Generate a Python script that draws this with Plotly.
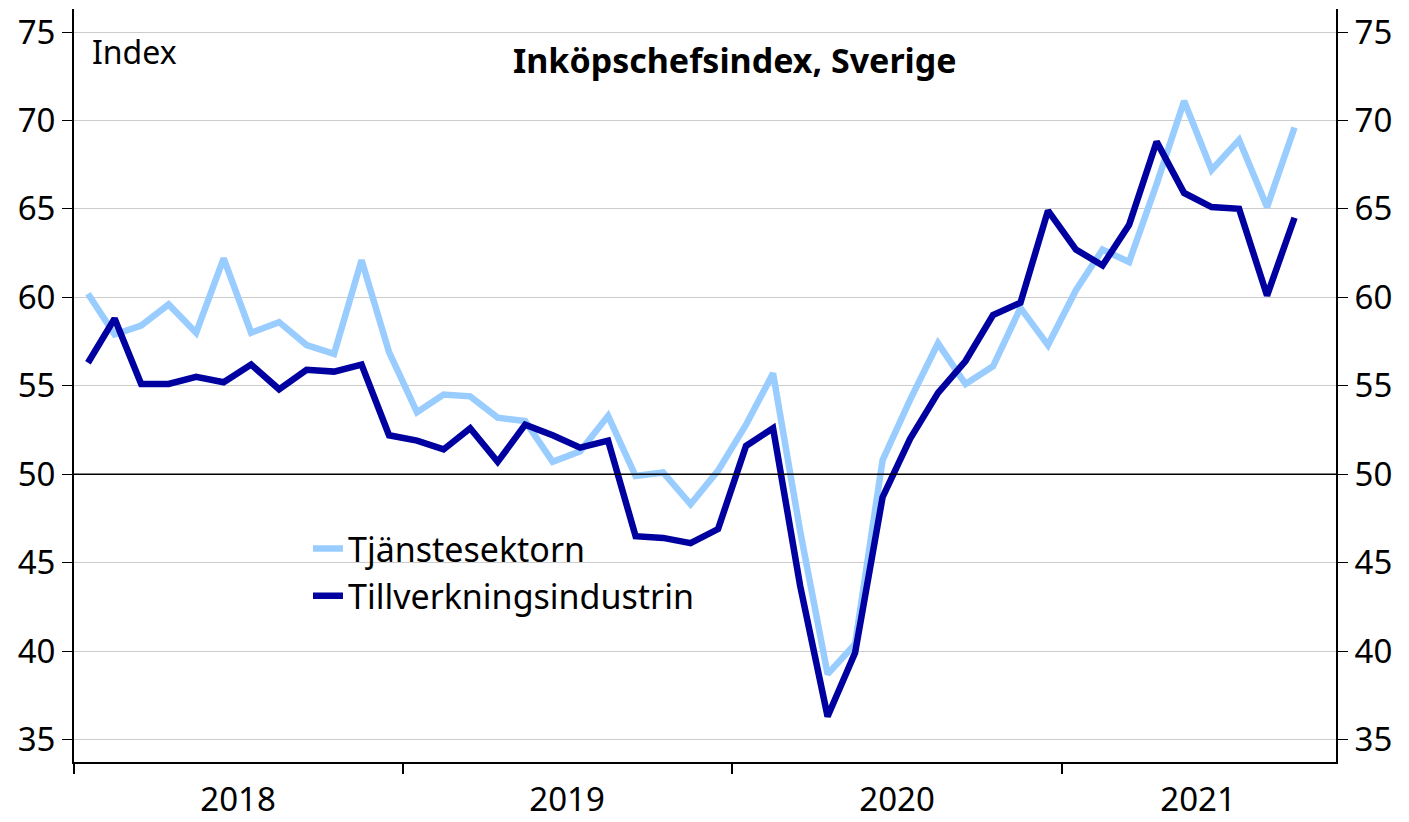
import pandas as pd
import plotly.graph_objects as go

months = pd.date_range("2018-01-01", periods=45, freq="MS")

tjanste = [60.2, 57.9, 58.4, 59.6, 58.0, 62.2, 58.0, 58.6, 57.3, 56.8, 62.1, 56.9,
           53.5, 54.5, 54.4, 53.2, 53.0, 50.7, 51.3, 53.3, 49.9, 50.1, 48.3, 50.2,
           52.8, 55.7, 46.8, 38.7, 40.4, 50.8, 54.2, 57.4, 55.1, 56.1, 59.4, 57.3,
           60.4, 62.7, 62.0, 66.4, 71.1, 67.2, 68.9, 65.1, 69.6]
tillverkning = [56.3, 58.8, 55.1, 55.1, 55.5, 55.2, 56.2, 54.8, 55.9, 55.8, 56.2, 52.2,
                51.9, 51.4, 52.6, 50.7, 52.8, 52.2, 51.5, 51.9, 46.5, 46.4, 46.1, 46.9,
                51.6, 52.6, 43.7, 36.3, 39.9, 48.7, 52.0, 54.6, 56.4, 59.0, 59.7, 64.9,
                62.7, 61.8, 64.1, 68.8, 65.9, 65.1, 65.0, 60.1, 64.5]

year_labels = ["2018", "2019", "2020", "2021"]
year_starts = ["2018-01-01", "2019-01-01", "2020-01-01", "2021-01-01"]
year_label_pos = ["2018-07-02", "2019-07-02", "2020-07-02", "2021-06-01"]
y_ticks = [35, 40, 45, 50, 55, 60, 65, 70, 75]

FONT = "Noto Sans"
LIGHT = "#99CCFF"
DARK = "#0000A0"
FS = 33
GRID = "#CCCCCC"

fig = go.Figure()
fig.add_trace(go.Scatter(x=months, y=tjanste, name="Tjänstesektorn", mode="lines",
                         line=dict(color=LIGHT, width=6.5), xperiod="M1",
                         xperiodalignment="middle", legendgroup="a"))
fig.add_trace(go.Scatter(x=months, y=tillverkning, name="Tillverkningsindustrin", mode="lines",
                         line=dict(color=DARK, width=6.5), xperiod="M1",
                         xperiodalignment="middle", legendgroup="b"))
fig.add_trace(go.Scatter(x=[], y=[], yaxis="y2", showlegend=False, hoverinfo="skip"))

yr = [33.73, 76.3]
fig.add_shape(type="line", xref="paper", yref="y", x0=0, x1=1, y0=50, y1=50,
              line=dict(color="black", width=1.5), layer="above")

fig.update_layout(
    width=1401, height=814,
    margin=dict(l=66, r=73, t=1, b=55),
    paper_bgcolor="white", plot_bgcolor="white",
    font=dict(family=FONT, size=FS, color="black"),
    showlegend=True,
    legend=dict(x=0.1854, y=0.3216, xanchor="left", yanchor="top",
                font=dict(size=34), tracegroupgap=0, bgcolor="rgba(0,0,0,0)"),
    xaxis=dict(range=["2018-01-01", "2021-11-01"], tickmode="array",
               tickvals=year_label_pos, ticktext=year_labels, ticks="", ticklen=0,
               ticklabelstandoff=7,
               showgrid=False, showline=True, linecolor="black", linewidth=2,
               tickfont=dict(size=FS),
               minor=dict(tickmode="array", tickvals=year_starts, ticks="outside",
                          ticklen=10, tickwidth=2, tickcolor="black", showgrid=False)),
    yaxis=dict(range=yr, tickmode="array", tickvals=y_ticks, ticks="outside",
               ticklen=10, tickwidth=1, tickcolor="black", showgrid=True,
               gridcolor=GRID, gridwidth=1, showline=True, linecolor="black",
               linewidth=2, zeroline=False, tickfont=dict(size=FS),
               ticklabeloverflow="allow"),
    yaxis2=dict(range=yr, overlaying="y", side="right", tickmode="array",
                tickvals=y_ticks, ticks="outside", ticklen=10, tickwidth=1,
                tickcolor="black", showgrid=True, gridcolor=GRID, gridwidth=1,
                showline=True, linecolor="black",
                linewidth=2, zeroline=False, tickfont=dict(size=FS),
                ticklabeloverflow="allow"),
    annotations=[
        dict(text="Index", xref="paper", yref="paper", x=0.0127, y=0.943,
             xanchor="left", yanchor="middle", showarrow=False, font=dict(size=32)),
        dict(text="<b>Inköpschefsindex, Sverige</b>", xref="paper", yref="paper",
             x=0.524, y=0.932, xanchor="center", yanchor="middle", showarrow=False,
             font=dict(size=34)),
    ],
)

fig.write_html("out.html")
